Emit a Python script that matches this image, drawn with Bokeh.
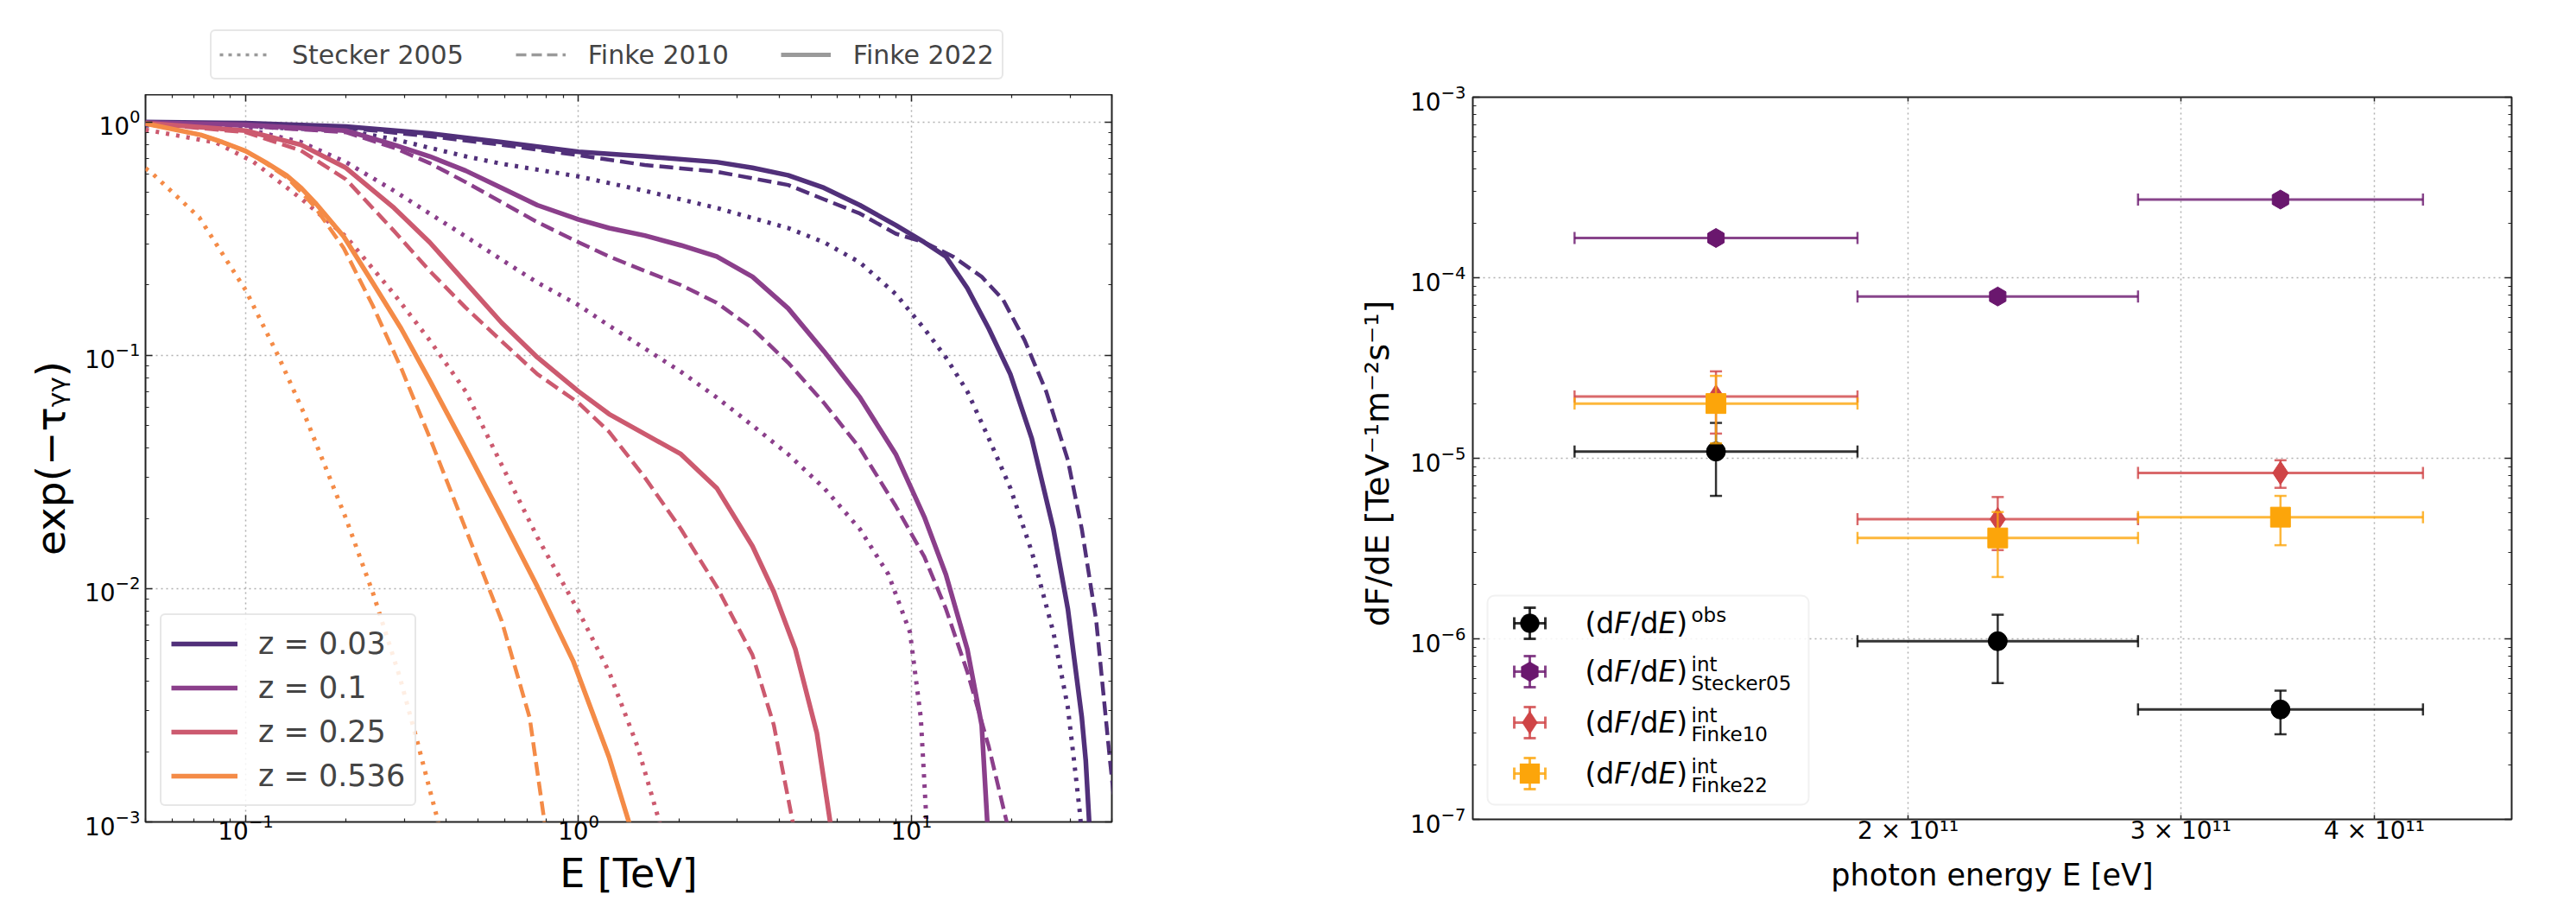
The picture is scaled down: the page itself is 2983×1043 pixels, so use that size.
import math
from bokeh.plotting import figure
from bokeh.layouts import row, column
from bokeh.models import (Legend, LegendItem, LogAxis, FixedTicker, CustomJSTickFormatter,
                          ColumnDataSource, Label, Range1d, BoxAnnotation, PolyAnnotation)
from bokeh.embed import file_html
from bokeh.resources import INLINE

FONT = "DejaVu Sans"

# ---------------- left panel: exp(-tau) vs E [TeV] ----------------
z_labels = ["z = 0.03", "z = 0.1", "z = 0.25", "z = 0.536"]
z_colors = ["#51307a", "#8b3f8b", "#cc5a6f", "#f48b47"]
model_labels = ["Stecker 2005", "Finke 2010", "Finke 2022"]

# Finke 2022 (solid)
f22_E_z003 = [0.05, 0.1, 0.2, 0.357, 0.587, 1.0, 1.58, 2.6, 3.33, 4.26, 5.46, 7.0, 8.97, 10.93, 12.69, 14.72, 17.08, 19.82, 22.99, 26.7, 29.5, 32.5, 33.4, 34.2, 36]
f22_T_z003 = [1.0, 0.989, 0.956, 0.893, 0.82, 0.745, 0.712, 0.673, 0.636, 0.591, 0.522, 0.44, 0.361, 0.305, 0.265, 0.194, 0.13, 0.083, 0.044, 0.018, 0.0082, 0.0028, 0.00183, 0.001, 0.0005]
f22_E_z01 = [0.05, 0.1, 0.2, 0.279, 0.357, 0.458, 0.587, 0.752, 1.0, 1.235, 1.58, 2.03, 2.6, 3.33, 4.26, 5.46, 7.0, 8.97, 10.93, 12.69, 14.72, 16.26, 16.9, 17.5]
f22_T_z01 = [0.994, 0.972, 0.918, 0.798, 0.712, 0.618, 0.522, 0.44, 0.382, 0.351, 0.326, 0.296, 0.265, 0.217, 0.159, 0.104, 0.066, 0.0377, 0.0203, 0.0115, 0.0055, 0.0026, 0.001, 0.0004]
f22_E_z025 = [0.05, 0.1, 0.1465, 0.2, 0.279, 0.357, 0.458, 0.587, 0.752, 1.0, 1.235, 1.58, 2.03, 2.6, 3.33, 3.86, 4.48, 5.2, 5.7, 6.2]
f22_T_z025 = [0.989, 0.918, 0.798, 0.636, 0.428, 0.305, 0.205, 0.138, 0.098, 0.07, 0.056, 0.046, 0.0377, 0.027, 0.0152, 0.0097, 0.0055, 0.0024, 0.001, 0.0005]
f22_E_z0536 = [0.05, 0.0732, 0.085, 0.1, 0.115, 0.1327, 0.147, 0.1618, 0.197, 0.2405, 0.2932, 0.357, 0.458, 0.587, 0.752, 0.963, 1.234, 1.416, 1.55]
f22_T_z0536 = [0.985, 0.88, 0.82, 0.75, 0.67, 0.59, 0.52, 0.45, 0.323, 0.205, 0.130, 0.078, 0.040, 0.0203, 0.0102, 0.0049, 0.0019, 0.001, 0.0006]

# Finke 2010 (dashed)
f10_E_z003 = [0.05, 0.2, 0.357, 0.587, 1.0, 1.58, 2.6, 4.26, 5.46, 7.0, 8.97, 10.93, 13.33, 16.26, 18.86, 21.88, 25.4, 29.5, 32.5, 35.9, 39.5, 42]
f10_T_z003 = [0.994, 0.945, 0.868, 0.798, 0.72, 0.654, 0.612, 0.537, 0.466, 0.405, 0.332, 0.305, 0.265, 0.217, 0.173, 0.116, 0.07, 0.0356, 0.018, 0.0073, 0.00183, 0.0008]
f10_E_z01 = [0.05, 0.1, 0.2, 0.279, 0.357, 0.458, 0.587, 0.752, 1.0, 1.235, 1.58, 2.03, 2.6, 3.33, 4.26, 5.46, 7.0, 8.97, 10.93, 12.69, 14.72, 17.08, 19.33, 21]
f10_T_z01 = [0.994, 0.961, 0.903, 0.775, 0.666, 0.552, 0.453, 0.372, 0.305, 0.265, 0.23, 0.2, 0.168, 0.13, 0.093, 0.0625, 0.04, 0.0226, 0.0137, 0.0082, 0.0044, 0.0021, 0.001, 0.0006]
f10_E_z025 = [0.05, 0.1, 0.1465, 0.2, 0.279, 0.357, 0.458, 0.587, 0.752, 1.0, 1.235, 1.58, 2.03, 2.6, 3.33, 3.86, 4.4, 4.8]
f10_T_z025 = [0.989, 0.903, 0.754, 0.568, 0.341, 0.23, 0.16, 0.115, 0.083, 0.0625, 0.047, 0.030, 0.018, 0.0102, 0.0052, 0.0026, 0.001, 0.0005]
f10_E_z0536 = [0.05, 0.0732, 0.085, 0.1, 0.115, 0.1327, 0.147, 0.1618, 0.197, 0.2405, 0.2932, 0.357, 0.458, 0.587, 0.713, 0.79, 0.85]
f10_T_z0536 = [0.985, 0.88, 0.82, 0.75, 0.665, 0.58, 0.50, 0.43, 0.288, 0.164, 0.088, 0.0445, 0.018, 0.0073, 0.0028, 0.001, 0.0005]

# Stecker 2005 (dotted)
s05_E_z003 = [0.05, 0.1, 0.2, 0.279, 0.357, 0.458, 0.587, 1.0, 1.58, 2.6, 4.26, 5.46, 7.0, 8.97, 10.93, 12.69, 14.72, 17.08, 19.82, 22.99, 26.7, 29.5, 30.8, 32.1, 34]
s05_T_z003 = [0.967, 0.956, 0.918, 0.844, 0.775, 0.712, 0.662, 0.584, 0.507, 0.428, 0.351, 0.305, 0.25, 0.183, 0.13, 0.098, 0.07, 0.044, 0.027, 0.0144, 0.0065, 0.0031, 0.00183, 0.00108, 0.0004]
s05_E_z01 = [0.05, 0.1, 0.1465, 0.2, 0.279, 0.357, 0.458, 0.587, 0.752, 1.0, 1.235, 1.58, 2.03, 2.6, 3.33, 4.26, 5.46, 7.0, 8.53, 9.9, 10.67, 11.1, 11.6]
s05_T_z01 = [0.978, 0.934, 0.82, 0.673, 0.507, 0.405, 0.323, 0.257, 0.205, 0.164, 0.134, 0.107, 0.085, 0.066, 0.05, 0.0377, 0.027, 0.018, 0.0115, 0.0065, 0.0028, 0.001, 0.0004]
s05_E_z025 = [0.05, 0.0816, 0.1054, 0.1465, 0.2, 0.279, 0.357, 0.458, 0.587, 0.752, 1.0, 1.235, 1.505, 1.75, 1.9]
s05_T_z025 = [0.926, 0.815, 0.675, 0.47, 0.323, 0.183, 0.116, 0.07, 0.034, 0.0166, 0.008, 0.0044, 0.0021, 0.001, 0.0006]
s05_E_z0536 = [0.05, 0.0527, 0.0725, 0.1, 0.125, 0.15, 0.2, 0.2416, 0.29, 0.328, 0.374, 0.41]
s05_T_z0536 = [0.633, 0.597, 0.39, 0.19, 0.1, 0.056, 0.02, 0.0095, 0.0042, 0.0022, 0.00107, 0.0006]

# ---------------- right panel: dF/dE vs photon energy [eV] ----------------
E_center = [1.503e11, 2.285e11, 3.479e11]
E_low = [1.218e11, 1.855e11, 2.815e11]
E_high = [1.855e11, 2.815e11, 4.30e11]

obs_flux = [1.09e-5, 9.7e-7, 4.06e-7]
obs_lo = [6.19e-6, 5.68e-7, 2.96e-7]
obs_hi = [1.57e-5, 1.36e-6, 5.16e-7]

s05_flux = [1.66e-4, 7.87e-5, 2.71e-4]
s05_lo = [1.56e-4, 7.4e-5, 2.55e-4]
s05_hi = [1.76e-4, 8.35e-5, 2.87e-4]

f10_flux = [2.2e-5, 4.6e-6, 8.3e-6]
f10_lo = [1.37e-5, 3.1e-6, 6.86e-6]
f10_hi = [3.03e-5, 6.1e-6, 9.75e-6]

f22_flux = [2.01e-5, 3.62e-6, 4.72e-6]
f22_lo = [1.21e-5, 2.2e-6, 3.30e-6]
f22_hi = [2.86e-5, 5.04e-6, 6.19e-6]

flux_labels = ["obs", "Stecker05", "Finke10", "Finke22"]
flux_colors = ["#000000", "#6a176e", "#cf4446", "#fca50a"]


def style_axis(ax, font_size="28px", major_in=8, minor_in=4):
    ax.axis_line_color = None
    ax.major_tick_in = major_in
    ax.major_tick_out = 0
    ax.minor_tick_in = minor_in
    ax.minor_tick_out = 0
    ax.major_tick_line_color = "#222222"
    ax.minor_tick_line_color = "#222222"
    ax.major_tick_line_width = 1.5
    ax.minor_tick_line_width = 1.2
    ax.major_label_text_font = FONT
    ax.major_label_text_font_size = font_size
    ax.major_label_text_color = "black"
    ax.axis_label_text_font = FONT
    ax.axis_label_text_font_style = "normal"
    ax.axis_label_text_color = "black"


def mirror_axis(ticker, major_in=8):
    ax = LogAxis(ticker=ticker, formatter=CustomJSTickFormatter(code="return '';"))
    style_axis(ax, font_size="0px", major_in=major_in)
    ax.major_label_standoff = 0
    return ax


def decade_minors(lo, hi):
    out = []
    for e in range(lo, hi + 1):
        for k in range(2, 10):
            out.append(k * 10.0 ** e)
    return out


def style_grid(g, ticker):
    g.ticker = ticker
    g.grid_line_color = "#b0b0b0"
    g.grid_line_dash = "2 4"
    g.grid_line_width = 1.5


def set_radius(obj, r):
    if "border_radius" in obj.properties():
        obj.border_radius = r


TOP = 109
W1 = 1490
W2 = 2983 - W1
FL2 = 1705 - W1

# ================= LEFT FIGURE =================
p1 = figure(width=W1, height=1043 - TOP, x_axis_type="log", y_axis_type="log",
            x_range=Range1d(0.05, 40), y_range=Range1d(1e-3, 1.31),
            output_backend="svg", toolbar_location=None,
            min_border_left=168, min_border_right=W1 - 1287, min_border_top=0, min_border_bottom=92)
p1.outline_line_color = "#222222"
p1.outline_line_width = 2
p1.background_fill_color = "white"
p1.border_fill_color = "white"

x1_ticker = FixedTicker(ticks=[0.1, 1, 10], minor_ticks=decade_minors(-2, 1))
y1_ticker = FixedTicker(ticks=[1e-3, 1e-2, 1e-1, 1], minor_ticks=decade_minors(-3, 0))
p1.xaxis.ticker = x1_ticker
p1.yaxis.ticker = y1_ticker
style_axis(p1.xaxis[0])
style_axis(p1.yaxis[0])
p1.xaxis.axis_label = "E [TeV]"
p1.xaxis.axis_label_text_font_size = "46px"
p1.xaxis.major_label_standoff = -10
p1.xaxis.axis_label_standoff = 9
p1.yaxis.axis_label = "exp(\u2212\u03c4\u1d67\u1d67)"
p1.yaxis.axis_label_text_font_size = "47px"
p1.yaxis.axis_label_standoff = 9
p1.yaxis.major_label_standoff = 6
style_grid(p1.xgrid[0], x1_ticker)
style_grid(p1.ygrid[0], y1_ticker)
p1.add_layout(mirror_axis(x1_ticker), "above")
p1.add_layout(mirror_axis(y1_ticker), "right")

curve_sets = [
    ("dotted", "4 8", 5.0, [(s05_E_z003, s05_T_z003), (s05_E_z01, s05_T_z01), (s05_E_z025, s05_T_z025), (s05_E_z0536, s05_T_z0536)]),
    ("dashed", "16 7", 4.5, [(f10_E_z003, f10_T_z003), (f10_E_z01, f10_T_z01), (f10_E_z025, f10_T_z025), (f10_E_z0536, f10_T_z0536)]),
    ("solid", "solid", 5.5, [(f22_E_z003, f22_T_z003), (f22_E_z01, f22_T_z01), (f22_E_z025, f22_T_z025), (f22_E_z0536, f22_T_z0536)]),
]
solid_renderers = []
for name, dash, width, curves in curve_sets:
    for (E, T), col in zip(curves, z_colors):
        r = p1.line(E, T, line_color=col, line_width=width, line_dash=dash, line_join="round")
        if name == "solid":
            solid_renderers.append(r)

z_legend = Legend(items=[LegendItem(label=lab, renderers=[r]) for lab, r in zip(z_labels, solid_renderers)],
                  location=(17, 18), label_text_font=FONT, label_text_font_size="35px",
                  glyph_width=77, glyph_height=44, label_height=44, spacing=7, padding=11,
                  label_standoff=24, margin=0, border_line_color="#d0d0d0", border_line_width=2,
                  background_fill_alpha=0.85)
set_radius(z_legend, 6)
p1.add_layout(z_legend)

# header strip above the left panel holding the model (line style) legend
h1 = figure(width=W1, height=TOP, x_range=Range1d(100, 200), y_range=Range1d(100, 200),
            output_backend="svg", toolbar_location=None, x_axis_location=None, y_axis_location=None,
            min_border_left=168, min_border_right=W1 - 1287, min_border_top=0, min_border_bottom=0)
h1.outline_line_color = None
h1.grid.visible = False
h1.background_fill_color = "white"
h1.border_fill_color = "white"
gray_r = []
for dash, w in [("4 6", 3.5), ("12 6", 3.5), ("solid", 5)]:
    gray_r.append(h1.line(f22_E_z003, f22_T_z003, line_color="#9a9a9a", line_width=w, line_dash=dash))
m_legend = Legend(items=[LegendItem(label=lab, renderers=[r]) for lab, r in zip(model_labels, gray_r)],
                  orientation="horizontal", location=(75, 17), label_text_font=FONT,
                  label_text_font_size="30px", glyph_width=58, glyph_height=36, label_height=36,
                  padding=9, spacing=60, label_standoff=26, margin=0,
                  border_line_color="#d0d0d0", border_line_width=2, background_fill_alpha=1.0)
set_radius(m_legend, 6)
h1.add_layout(m_legend)

# ================= RIGHT FIGURE =================
p2 = figure(width=W2, height=1043, x_axis_type="log", y_axis_type="log",
            x_range=Range1d(1.047e11, 4.906e11), y_range=Range1d(1e-7, 1e-3),
            output_backend="svg", toolbar_location=None,
            min_border_left=FL2, min_border_right=W2 - FL2 - 1203, min_border_top=112, min_border_bottom=95)
p2.outline_line_color = "#222222"
p2.outline_line_width = 2
p2.background_fill_color = "white"
p2.border_fill_color = "white"

x2_ticker = FixedTicker(ticks=[2e11, 3e11, 4e11], minor_ticks=[])
y2_ticker = FixedTicker(ticks=[1e-7, 1e-6, 1e-5, 1e-4, 1e-3], minor_ticks=decade_minors(-7, -4))
p2.xaxis.ticker = x2_ticker
p2.yaxis.ticker = y2_ticker
style_axis(p2.xaxis[0], major_in=5)
style_axis(p2.yaxis[0])
p2.xaxis.formatter = CustomJSTickFormatter(code="return Math.round(tick / 1e11) + ' \u00d7 10\u00b9\u00b9';")
p2.xaxis.axis_label = "photon energy E [eV]"
p2.xaxis.axis_label_text_font_size = "35px"
p2.xaxis.major_label_standoff = -4
p2.xaxis.axis_label_standoff = 12
p2.yaxis.axis_label = "dF/dE  [TeV\u207b\u00b9m\u207b\u00b2s\u207b\u00b9]"
p2.yaxis.axis_label_text_font_size = "38px"
p2.yaxis.axis_label_standoff = 13
p2.yaxis.major_label_standoff = 8
style_grid(p2.xgrid[0], x2_ticker)
style_grid(p2.ygrid[0], y2_ticker)
p2.add_layout(mirror_axis(x2_ticker, major_in=5), "above")
p2.add_layout(mirror_axis(y2_ticker), "right")

series = [
    (obs_flux, obs_lo, obs_hi, "circle", 22, 0.0),
    (s05_flux, s05_lo, s05_hi, "hex", 22, math.pi / 6),
    (f10_flux, f10_lo, f10_hi, "diamond", 27, 0.0),
    (f22_flux, f22_lo, f22_hi, "square", 23, 0.0),
]
for (flux, lo, hi, marker, size, ang), col in zip(series, flux_colors):
    src = ColumnDataSource(dict(x=E_center, y=flux, xlo=E_low, xhi=E_high, ylo=lo, yhi=hi))
    p2.segment(x0="xlo", y0="y", x1="xhi", y1="y", source=src, line_color=col, line_width=3, line_alpha=0.8)
    p2.segment(x0="x", y0="ylo", x1="x", y1="yhi", source=src, line_color=col, line_width=2.5, line_alpha=0.8)
    p2.scatter(x="xlo", y="y", source=src, marker="dash", angle=math.pi / 2, size=14, line_color=col, line_width=2.5, line_alpha=0.8)
    p2.scatter(x="xhi", y="y", source=src, marker="dash", angle=math.pi / 2, size=14, line_color=col, line_width=2.5, line_alpha=0.8)
    p2.scatter(x="x", y="ylo", source=src, marker="dash", size=14, line_color=col, line_width=2.5, line_alpha=0.8)
    p2.scatter(x="x", y="yhi", source=src, marker="dash", size=14, line_color=col, line_width=2.5, line_alpha=0.8)
    p2.scatter(x="x", y="y", source=src, marker=marker, size=size, angle=ang, fill_color=col, line_color=col, line_width=1)

# ---- legend of the right panel (screen units, relative to the frame's bottom-left) ----
box = BoxAnnotation(left=17, right=389, bottom=17, top=259, left_units="screen", right_units="screen",
                    bottom_units="screen", top_units="screen", fill_color="white", fill_alpha=0.85,
                    line_color="#d0d0d0", line_width=2, level="overlay")
set_radius(box, 8)
p2.add_layout(box)

row_y = [227, 171, 112, 53]
mx = 66
for i, (lab, col) in enumerate(zip(flux_labels, flux_colors)):
    cy = row_y[i]
    bars = [(mx - 18, mx + 18, cy - 1.5, cy + 1.5), (mx - 1.5, mx + 1.5, cy - 18, cy + 18),
            (mx - 19.5, mx - 16.5, cy - 7, cy + 7), (mx + 16.5, mx + 19.5, cy - 7, cy + 7),
            (mx - 7, mx + 7, cy + 16.5, cy + 19.5), (mx - 7, mx + 7, cy - 19.5, cy - 16.5)]
    for l, r, b, t in bars:
        p2.add_layout(BoxAnnotation(left=l, right=r, bottom=b, top=t, left_units="screen", right_units="screen",
                                    bottom_units="screen", top_units="screen", fill_color=col, fill_alpha=0.8,
                                    line_color=None, level="overlay"))
    if lab == "obs":
        n, rad, a0, sx, sy = 32, 11, 0.0, 1.0, 1.0
    elif lab == "Stecker05":
        n, rad, a0, sx, sy = 6, 11.5, math.pi / 2, 1.0, 1.0
    elif lab == "Finke10":
        n, rad, a0, sx, sy = 4, 13.5, math.pi / 2, 0.66, 1.0
    else:
        n, rad, a0, sx, sy = 4, 11.5 * math.sqrt(2), math.pi / 4, 1.0, 1.0
    xs = [mx + sx * rad * math.cos(a0 + 2 * math.pi * k / n) for k in range(n)]
    ys = [cy + sy * rad * math.sin(a0 + 2 * math.pi * k / n) for k in range(n)]
    p2.add_layout(PolyAnnotation(xs=xs, ys=ys, xs_units="screen", ys_units="screen", fill_color=col,
                                 fill_alpha=1.0, line_color=col, line_width=1, level="overlay"))
    parts = [("(d", 130, "normal"), ("F", 163.8, "italic"), ("/d", 182.8, "normal"),
             ("E", 214.9, "italic"), (")", 235.8, "normal")]
    for txt, x0, style in parts:
        p2.add_layout(Label(x=x0, y=cy, x_units="screen", y_units="screen", text=txt, text_font=FONT,
                            text_font_size="33px", text_font_style=style, text_baseline="middle",
                            text_color="black", level="overlay"))
    if lab == "obs":
        p2.add_layout(Label(x=253, y=cy + 10, x_units="screen", y_units="screen", text="obs", text_font=FONT,
                            text_font_size="23px", text_baseline="middle", text_color="black", level="overlay"))
    else:
        p2.add_layout(Label(x=253, y=cy + 9, x_units="screen", y_units="screen", text="int", text_font=FONT,
                            text_font_size="23px", text_baseline="middle", text_color="black", level="overlay"))
        p2.add_layout(Label(x=253, y=cy - 13, x_units="screen", y_units="screen", text=lab, text_font=FONT,
                            text_font_size="23px", text_baseline="middle", text_color="black", level="overlay"))

layout = row(column(h1, p1), p2)
open("out.html", "w").write(file_html(layout, INLINE))
